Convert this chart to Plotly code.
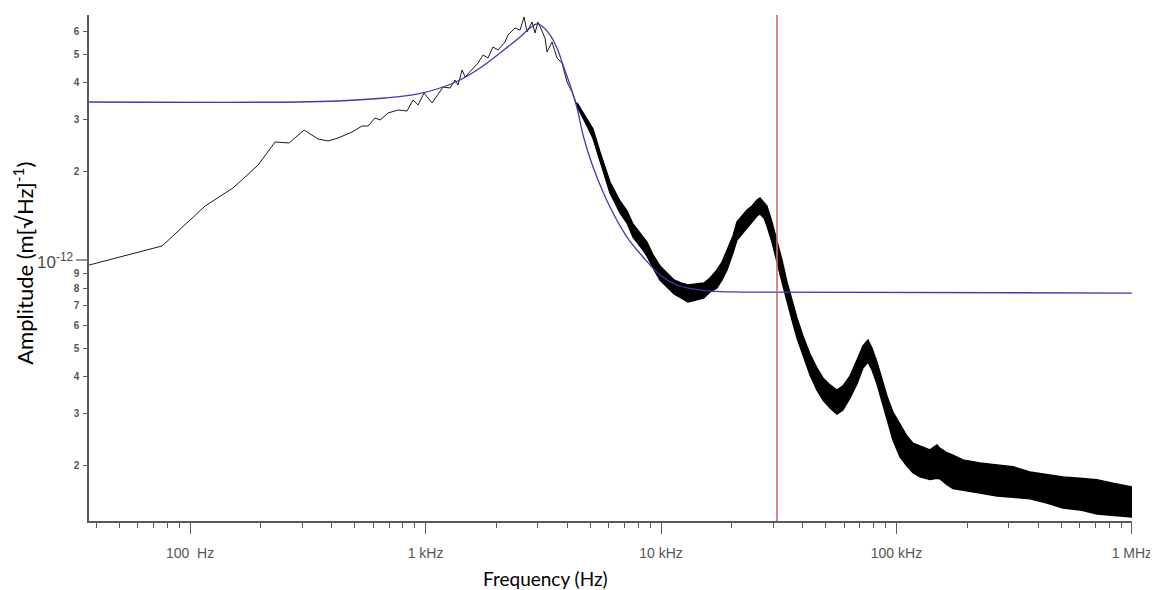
import numpy as np
import plotly.graph_objects as go

PICO = 1e-12

# Measured spectrum, low-frequency part drawn as a thin line (Hz, amplitude in 1e-12 m/sqrt(Hz))
line_freq = [37.2, 76.0, 115.8, 152.2, 194.5, 229.6, 263.3, 304.9, 349.6, 385.5, 425.1, 487.5,
             537.6, 570.0, 610.4, 641.0, 693.0, 764.1, 834.4, 885.0, 929.3, 985.4, 1066, 1187,
             1271, 1334, 1374, 1429, 1472, 1671, 1755, 1842, 1934, 2032, 2176, 2240, 2399, 2520,
             2620, 2698, 2834, 2917, 3004, 3217, 3281, 3445, 3617, 3798, 3989, 4190, 4399]
line_amp = [0.961, 1.116, 1.526, 1.758, 2.104, 2.520, 2.500, 2.768, 2.580, 2.540, 2.600, 2.725,
            2.856, 2.856, 3.041, 2.994, 3.162, 3.237, 3.212, 3.502, 3.367, 3.698, 3.420, 3.876,
            3.846, 4.096, 3.937, 4.430, 4.193, 4.677, 4.981, 4.864, 5.303, 5.180, 5.514, 5.825,
            6.153, 6.058, 6.707, 5.964, 6.450, 5.917, 6.450, 5.690, 5.099, 5.514, 4.864, 4.677,
            4.031, 3.727, 3.367]

# Measured spectrum, dense noisy part: upper / lower envelope of the trace
band_freq = [4399, 4619, 4851, 5144, 5508, 6073, 6696, 7171, 7605, 8386, 8721, 9248, 9903,
             10710, 11360, 12160, 13020, 14080, 15220, 16150, 17290, 18160, 19070, 20220, 21020,
             22080, 23190, 24350, 25560, 26330, 27370, 28190, 29600, 31090, 32650, 34280, 36010,
             37810, 40090, 42940, 45980, 48750, 52210, 55890, 59260, 63460, 67980, 72070, 75680,
             78710, 82630, 86790, 91130, 96630, 103500, 110800, 117500, 125800, 138800, 148600,
             153000, 163900, 173800, 191600, 226200, 267200, 312400, 368900, 435600, 509300,
             601500, 710200, 830600, 1000000]
band_upper = [3.420, 3.220, 3.030, 2.790, 2.330, 1.842, 1.587, 1.468, 1.326, 1.197, 1.151, 1.040,
              0.954, 0.896, 0.855, 0.835, 0.822, 0.829, 0.835, 0.869, 0.925, 0.984, 1.081, 1.207,
              1.347, 1.411, 1.479, 1.526, 1.600, 1.625, 1.575, 1.526, 1.347, 1.170, 1.000, 0.842,
              0.731, 0.635, 0.551, 0.479, 0.429, 0.397, 0.376, 0.361, 0.373, 0.403, 0.457, 0.510,
              0.534, 0.502, 0.450, 0.397, 0.345, 0.304, 0.275, 0.252, 0.238, 0.233, 0.226, 0.235,
              0.229, 0.221, 0.217, 0.209, 0.204, 0.201, 0.198, 0.190, 0.186, 0.183, 0.181, 0.179,
              0.174, 0.169]
band_lower = [3.330, 3.100, 2.860, 2.590, 2.150, 1.690, 1.445, 1.336, 1.197, 1.081, 1.032, 0.939,
              0.855, 0.803, 0.766, 0.743, 0.720, 0.731, 0.743, 0.778, 0.803, 0.855, 0.925, 1.056,
              1.170, 1.235, 1.285, 1.347, 1.411, 1.434, 1.390, 1.305, 1.151, 0.984, 0.842, 0.720,
              0.625, 0.543, 0.471, 0.406, 0.361, 0.334, 0.314, 0.299, 0.309, 0.339, 0.379, 0.429,
              0.450, 0.423, 0.379, 0.329, 0.286, 0.244, 0.214, 0.199, 0.189, 0.183, 0.179, 0.181,
              0.180, 0.172, 0.167, 0.165, 0.161, 0.1575, 0.156, 0.154, 0.149, 0.1434, 0.1412,
              0.1368, 0.1357, 0.1336]

# Fitted model curve (blue)
fit_freq = [37.2, 287.4, 425.1, 673.0, 929.3, 1152, 1401, 1704, 2072, 2520, 2778, 2975, 3155,
            3379, 3617, 3836, 4109, 4399, 4665, 5144, 6073, 7171, 8386, 9903, 11690, 13670,
            16150, 21650, 1000000]
fit_amp = [3.446, 3.446, 3.474, 3.556, 3.670, 3.846, 4.096, 4.499, 5.060, 5.735, 6.153, 6.350,
           6.203, 5.825, 5.262, 4.606, 3.937, 3.289, 2.662, 2.072, 1.514, 1.197, 1.024, 0.889,
           0.822, 0.797, 0.784, 0.778, 0.772]

marker_freq = 31090  # red vertical cursor

x_tick_vals = [100, 1e3, 1e4, 1e5, 1e6]
x_tick_text = ["100\u00a0\u00a0Hz", "1 kHz", "10 kHz", "100 kHz", "1 MHz"]
y_tick_vals = [0.2, 0.3, 0.4, 0.5, 0.6, 0.7, 0.8, 0.9, 2.0, 3.0, 4.0, 5.0, 6.0]
y_tick_text = ["2", "3", "4", "5", "6", "7", "8", "9", "2", "3", "4", "5", "6"]
decade_value = 1.0
decade_label = "10<sup>-12</sup>"

AXIS_COLOR = "#5a5a5a"
Y_RANGE = [-12.8878, -11.1667]

line_amp_m = np.array(line_amp) * PICO
band_up_m = np.array(band_upper) * PICO
band_lo_m = np.array(band_lower) * PICO
fit_amp_m = np.array(fit_amp) * PICO

fig = go.Figure()

fig.add_trace(go.Scatter(x=line_freq, y=line_amp_m, mode="lines",
                         line=dict(color="#1a1a1a", width=1), showlegend=False,
                         hoverinfo="skip"))

band_x = list(band_freq) + list(band_freq[::-1])
band_y = list(band_up_m) + list(band_lo_m[::-1])
fig.add_trace(go.Scatter(x=band_x, y=band_y, mode="lines", fill="toself",
                         fillcolor="#000000", line=dict(color="#000000", width=1.4),
                         showlegend=False, hoverinfo="skip"))

fig.add_trace(go.Scatter(x=fit_freq, y=fit_amp_m, mode="lines", line_shape="spline",
                         line=dict(color="#3c3cae", width=1.3), showlegend=False,
                         hoverinfo="skip"))

# red cursor line
fig.add_shape(type="line", xref="x", yref="paper", x0=marker_freq, x1=marker_freq,
              y0=0, y1=1, line=dict(color="#d36a6a", width=1.6), layer="above")

# longer tick for the decade label
fig.add_shape(type="line", xref="paper", yref="y", x0=-0.0125, x1=0,
              y0=decade_value * PICO, y1=decade_value * PICO,
              line=dict(color=AXIS_COLOR, width=1.3))

fig.add_annotation(text=decade_label, xref="paper", yref="y", x=-0.0135,
                   y=np.log10(decade_value * PICO), xanchor="right", yanchor="middle",
                   showarrow=False, yshift=-1,
                   font=dict(family="Liberation Sans, Arial, sans-serif", size=17,
                             color="#4a4a4a"))

fig.add_annotation(text="Frequency (Hz)", xref="paper", yref="paper", x=0.438, y=-0.113,
                   xanchor="center", yanchor="middle", showarrow=False,
                   font=dict(family="Lato, sans-serif", size=19, color="#000000"))

fig.add_annotation(text="Amplitude (m[√Hz]<sup>-1</sup>)", xref="paper", yref="paper",
                   x=-0.0625, y=0.51, xanchor="center", yanchor="middle", textangle=-90,
                   showarrow=False,
                   font=dict(family="Lato, sans-serif", size=22, color="#000000"))

minor_x = [m * 10 ** e for e in range(1, 6) for m in range(2, 10) if m * 10 ** e >= 37.2]

# the page body adds an 8 px margin, so the figure is made 8 px smaller
fig.update_layout(
    width=1150, height=582,
    margin=dict(l=81, r=26, t=7, b=69),
    paper_bgcolor="white", plot_bgcolor="white",
    font=dict(family="Liberation Sans, Arial, sans-serif", color="#555555"),
)

fig.update_xaxes(
    type="log", range=[np.log10(37.2), 6.0005], automargin=False,
    showgrid=False, zeroline=False,
    showline=True, linecolor=AXIS_COLOR, linewidth=1.5,
    ticks="outside", ticklen=11, tickwidth=1.3, tickcolor=AXIS_COLOR,
    tickmode="array", tickvals=x_tick_vals, ticktext=x_tick_text,
    tickfont=dict(size=14, color="#555555"),
    ticklabelstandoff=7,
    minor=dict(tickmode="array", tickvals=minor_x, ticks="outside", ticklen=5,
               tickwidth=1.2, tickcolor=AXIS_COLOR, showgrid=False),
)

fig.update_yaxes(
    type="log", range=Y_RANGE, automargin=False,
    showgrid=False, zeroline=False,
    showline=True, linecolor=AXIS_COLOR, linewidth=1.5,
    ticks="outside", ticklen=4, tickwidth=1.3, tickcolor=AXIS_COLOR,
    tickmode="array", tickvals=list(np.array(y_tick_vals) * PICO), ticktext=y_tick_text,
    tickfont=dict(size=10, color="#555555", weight="bold"),
    ticklabelstandoff=2,
)

fig.write_html("out.html")
